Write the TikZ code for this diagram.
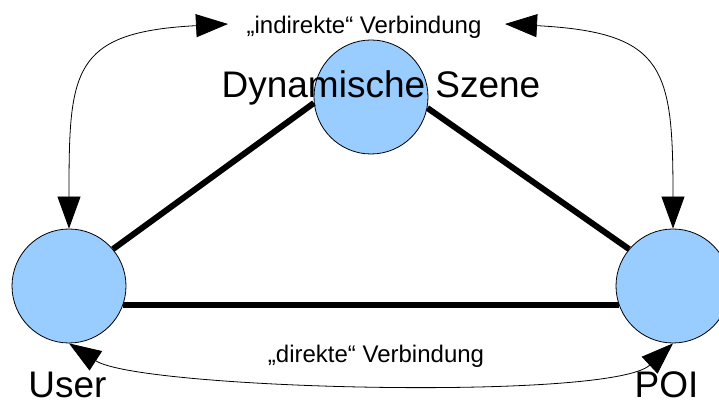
\documentclass[tikz,border=0pt]{standalone}
\usepackage{fontspec}
\setmainfont{Liberation Sans}
\usepackage{tikz}
\usetikzlibrary{arrows, arrows.meta, positioning}

\begin{document}
\begin{tikzpicture}[
    >={Triangle[length=32pt, width=23pt]},
    x=1pt, y=1pt,
    place/.style={circle, draw=black, line width=0.8pt, fill=placeblue, inner sep=0pt, minimum size=114pt},
    link/.style={-, line width=6pt, black},
    relation/.style={<->, line width=0.8pt, black},
    bigtext/.style={anchor=base, inner sep=0pt, font=\fontsize{37}{40}\selectfont},
    smalltext/.style={anchor=base, inner sep=0pt, font=\fontsize{24}{28}\selectfont}
    ]
    \definecolor{placeblue}{HTML}{99CCFF}
    \useasboundingbox (0,0) rectangle (719,403);
    % Nodes
    \node[place] (user) at (69,117) {};
    \node[place] (poi) at (673,117) {};
    \node[place] (scene) at (371,306) {};
    \coordinate (indL) at (228,379);
    \coordinate (indR) at (505,379);
    % Edges
    \path (user.40) edge [link] (scene.186);
    \path (scene.-11) edge [link] (poi.140);
    \path (user.-19.5) edge [link] (poi.199.5);
    \path (user.north) edge [relation, out=90, in=183, looseness=1.55] (indL);
    \path (poi.north) edge [relation, out=90, in=-3, looseness=1.55] (indR);
    \path (user.south) edge [relation, out=-33, in=223, looseness=0.36] (poi.south);
    % Labels
    \node[bigtext] (scenetext) at (381,305) {Dynamische Szene};
    \node[bigtext] (usertext) at (67.5,5) {User};
    \node[bigtext] (poitext) at (666.5,5) {POI};
    \node[smalltext] (indtext) at (364,369) {„indirekte“ Verbindung};
    \node[smalltext] (dirtext) at (376,40) {„direkte“ Verbindung};
\end{tikzpicture}
\end{document}
